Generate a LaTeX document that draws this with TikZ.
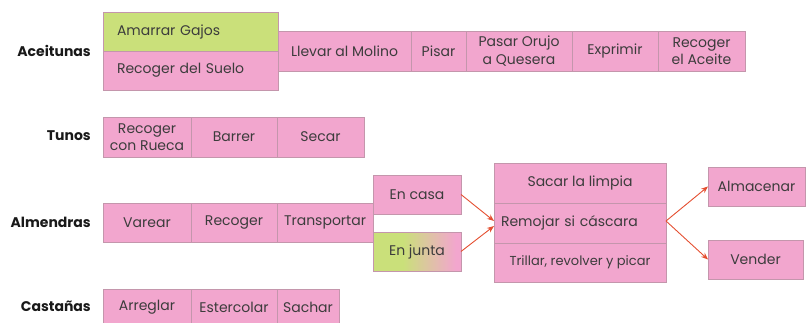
\documentclass[tikz,border=0pt]{standalone}
\usepackage{fontspec}
\setmainfont{Poppins}
\usetikzlibrary{arrows.meta}
\definecolor{bpink}{RGB}{242,166,206}
\definecolor{bgreen}{RGB}{202,224,122}
\definecolor{bline}{RGB}{196,150,172}
\definecolor{btext}{RGB}{60,60,60}
\definecolor{arr}{RGB}{228,78,48}
\pgfdeclarehorizontalshading{junta}{100bp}{color(0bp)=(bgreen); color(42bp)=(bgreen); color(72bp)=(bpink); color(100bp)=(bpink)}
\begin{document}
\begin{tikzpicture}[x=1pt,y=-1pt,
  box/.style={draw=bline, line width=0.5pt, fill=bpink, inner sep=0pt, outer sep=0pt,
    anchor=north west, align=center, text=btext,
    font=\fontsize{14}{17.5}\selectfont},
  lbl/.style={anchor=east, inner sep=0pt, text=black!90,
    font=\fontsize{14}{17}\selectfont\bfseries},
  arrow/.style={draw=arr, line width=0.9pt, -{Stealth[length=7pt,width=5.5pt]}}]
\useasboundingbox (0,0) rectangle (810,323);
% Aceitunas
\node[lbl] (l1) at (91,51) {Aceitunas};
\node[box, fill=bgreen, minimum width=175, minimum height=39, text width=147, align=left, inner xsep=14] (a1) at (103,12) {Amarrar Gajos};
\node[box, minimum width=175, minimum height=39, text width=147, align=left, inner xsep=14] (a2) at (103,51) {Recoger del Suelo};
\node[box, minimum width=133, minimum height=40] (a3) at (278,31) {Llevar al Molino};
\node[box, minimum width=55, minimum height=40] (a4) at (411,31) {Pisar};
\node[box, minimum width=106, minimum height=40] (a5) at (466,31) {Pasar Orujo\\a Quesera};
\node[box, minimum width=86, minimum height=40] (a6) at (572,31) {Exprimir};
\node[box, minimum width=87, minimum height=40] (a7) at (658,31) {Recoger\\el Aceite};
% Tunos
\node[lbl] (l2) at (91,136) {Tunos};
\node[box, minimum width=88, minimum height=40] (t1) at (103,117) {Recoger\\con Rueca};
\node[box, minimum width=86, minimum height=40] (t2) at (191,117) {Barrer};
\node[box, minimum width=87, minimum height=40] (t3) at (277,117) {Secar};
% Almendras
\node[lbl] (l3) at (91,222) {Almendras};
\node[box, minimum width=88, minimum height=39] (m1) at (103,203) {Varear};
\node[box, minimum width=86, minimum height=39] (m2) at (191,203) {Recoger};
\node[box, minimum width=96, minimum height=39] (m3) at (277,203) {Transportar};
\node[box, minimum width=88, minimum height=39] (c1) at (373,175) {En casa};
\node[box, shading=junta, minimum width=88, minimum height=39] (c2) at (373,232) {En junta};
\node[box, minimum width=172, minimum height=40] (r1) at (494,163) {Sacar la limpia};
\node[box, minimum width=172, minimum height=40, text width=158, align=left, inner xsep=7] (r2) at (494,203) {Remojar si cáscara};
\node[box, minimum width=172, minimum height=39, font=\fontsize{13}{16}\selectfont] (r3) at (494,243) {Trillar, revolver y picar};
\node[box, minimum width=97, minimum height=39] (s1) at (708,167) {Almacenar};
\node[box, minimum width=95, minimum height=39] (s2) at (708,240) {Vender};
\draw[arrow] (c1.east) -- ([yshift=2pt]r2.west);
\draw[arrow] (c2.east) -- ([yshift=-3pt]r2.west);
\draw[arrow] ([yshift=2pt]r2.east) -- (s1.west);
\draw[arrow] ([yshift=2pt]r2.east) -- (s2.west);
% Castañas
\node[lbl] (l4) at (91,306) {Castañas};
\node[box, minimum width=88, minimum height=36] (k1) at (103,289) {Arreglar};
\node[box, minimum width=86, minimum height=36] (k2) at (191,289) {Estercolar};
\node[box, minimum width=62, minimum height=36] (k3) at (277,289) {Sachar};
\end{tikzpicture}
\end{document}
